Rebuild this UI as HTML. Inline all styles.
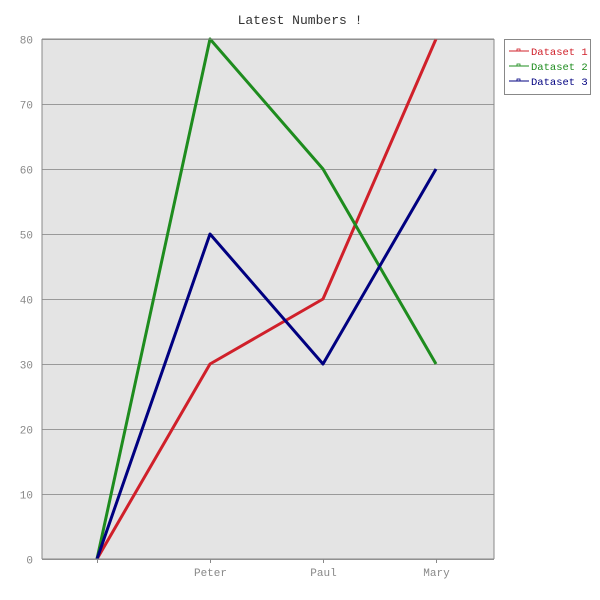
<!DOCTYPE html>
<html><head><meta charset="utf-8"><style>
body{margin:0;background:#fff}
svg{display:block;font-family:"Liberation Mono",monospace}
</style></head><body>
<svg id="c" width="600" height="600">
<text x="300" y="24" text-anchor="middle" font-size="13" fill="#333">Latest Numbers !</text>
<rect x="42" y="39" width="452" height="520" fill="#e4e4e4"/>
<g id="grid"></g><g id="lines"></g>
<line x1="42" y1="39" x2="42" y2="559" stroke="#888"/>
<line x1="42" y1="559" x2="494" y2="559" stroke="#888"/>
<line x1="494" y1="39" x2="494" y2="559" stroke="#888"/>
<line x1="42" y1="39" x2="494" y2="39" stroke="#888"/>
<g>
<rect x="504.5" y="39.5" width="86" height="55" fill="#fff" stroke="#888"/>
<g id="legend"></g>
</g>
</svg>
<script>
const categories=["","Peter","Paul","Mary"];
const series1=[0,30,40,80];
const series2=[0,80,60,30];
const series3=[0,50,30,60];
const yTicks=[0,10,20,30,40,50,60,70,80];
const names=["Dataset 1","Dataset 2","Dataset 3"];
const colors=["#d0202a","#1e8c1e","#000080"];
const ns="http://www.w3.org/2000/svg";
const X0=42,W=452,Y0=559,H=520,YMAX=80;
const xs=i=>X0+W/categories.length*(i+0.5)-1.5;
const ys=v=>Y0-v/YMAX*H;
function mk(t,a,p){const e=document.createElementNS(ns,t);for(const k in a)e.setAttribute(k,a[k]);p.appendChild(e);return e;}
const grid=document.getElementById('grid'),svg=document.getElementById('c');
yTicks.forEach(v=>{
  const y=Math.round(ys(v))+0.5;
  const l=mk('line',{x1:X0,x2:X0+W,y1:y,y2:y,stroke:'#999'},grid);
  
  
  const t=mk('text',{x:33,y:y+4,'text-anchor':'end','font-size':11,fill:'#888'},svg);
  t.textContent=v;
  
  
});
categories.forEach((c,i)=>{
  const x=Math.round(xs(i))+0.5;
  mk('line',{x1:x,x2:x,y1:Y0,y2:Y0+4,stroke:'#888'},svg);
  const t=mk('text',{x:x,y:576,'text-anchor':'middle','font-size':11,fill:'#888'},svg);
  t.textContent=c;
  
  
});
const lines=document.getElementById('lines');
[series1,series2,series3].forEach((s,k)=>{
  const p=mk('polyline',{points:s.map((v,i)=>xs(i)+','+ys(v)).join(' '),fill:'none',stroke:colors[k],'stroke-width':3,'stroke-linejoin':'round'},lines);
  
  
});
const lg=document.getElementById('legend');
names.forEach((n,k)=>{
  const y=51+k*15;
  mk('line',{x1:509,x2:529,y1:y,y2:y,stroke:colors[k]},lg);
  mk('rect',{x:517,y:y-2,width:3,height:2,fill:'none',stroke:colors[k],'stroke-width':0.8},lg);
  const t=mk('text',{x:531,y:y+4,'font-size':10.5,fill:colors[k]},lg);
  t.textContent=n;
  
  
});
</script>
</body></html>
